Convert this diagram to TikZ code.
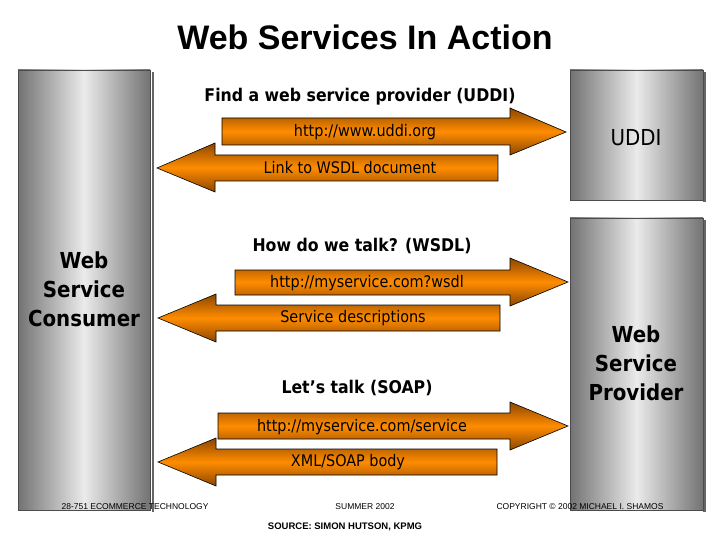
\documentclass[tikz,border=0pt]{standalone}
\usepackage{fontspec}
\setmainfont{Liberation Sans}
\newfontfamily\tah{DejaVu Sans Condensed}
\begin{document}
\begin{tikzpicture}[x=1pt,y=-1pt,
  pillar/.style={left color=black!55,right color=black!55,middle color=black!8,draw=black!70},
  arr/.style={top color=orange!55!black,bottom color=orange!55!black,middle color=orange!90!yellow,draw=black,line width=0.6pt},
  lbl/.style={font=\tah\fontsize{16}{18}\selectfont},
  head/.style={font=\tah\bfseries\fontsize{17.5}{20}\selectfont},
  big/.style={font=\tah\bfseries\fontsize{22}{29}\selectfont,align=center},
  foot/.style={font=\fontsize{8.5}{10}\selectfont}]
\useasboundingbox (0,0) rectangle (720,540);
\fill[white] (0,0) rectangle (720,540);
\node[font=\bfseries\fontsize{34}{40}\selectfont] (title) at (365,37) {Web Services In Action};
% pillars
\fill[black!60] (152,72) rectangle (154,512);
\path[pillar] (18,70) rectangle (150,510);
\fill[black!60] (703,72) rectangle (706,202);
\path[pillar] (570,70) rectangle (703,200);
\fill[black!60] (703,220) rectangle (706,512);
\path[pillar] (570,218) rectangle (703,510);
\node[big] (cons) at (84,289) {Web\\Service\\Consumer};
\node[font=\tah\fontsize{22}{25}\selectfont] (uddi) at (636,138) {UDDI};
\node[big] (prov) at (636,363) {Web\\Service\\Provider};
% arrows
\path[arr] (222,118) -- (510,118) -- (510,108) -- (566,132) -- (510,155) -- (510,145) -- (222,145) -- cycle;
\path[arr] (157,168) -- (215,143) -- (215,155) -- (498,155) -- (498,181) -- (215,181) -- (215,192) -- cycle;
\path[arr] (235,270) -- (510,270) -- (510,258) -- (568,282) -- (510,306) -- (510,295) -- (235,295) -- cycle;
\path[arr] (158,318) -- (216,294) -- (216,305) -- (500,305) -- (500,331) -- (216,331) -- (216,342) -- cycle;
\path[arr] (218,413) -- (510,413) -- (510,402) -- (568,426) -- (510,450) -- (510,439) -- (218,439) -- cycle;
\path[arr] (158,462) -- (216,438) -- (216,449) -- (497,449) -- (497,475) -- (216,475) -- (216,486) -- cycle;
\node[head] (h1) at (360,97) {Find a web service provider (UDDI)};
\node[lbl] (a1) at (365,132) {http://www.uddi.org};
\node[lbl] (a2) at (350,168) {Link to WSDL document};
\node[head] (h2) at (362,246) {How do we talk? (WSDL)};
\node[lbl] (a3) at (367,283) {http://myservice.com?wsdl};
\node[lbl] (a4) at (353,318) {Service descriptions};
\node[head] (h3) at (357,388) {Let’s talk (SOAP)};
\node[lbl] (a5) at (362,427) {http://myservice.com/service};
\node[lbl] (a6) at (348,462) {XML/SOAP body};
% footer
\node[foot] (f1) at (135,507) {28-751 ECOMMERCE TECHNOLOGY};
\node[foot] (f2) at (365,507) {SUMMER 2002};
\node[foot] (f3) at (580,507) {COPYRIGHT © 2002 MICHAEL I. SHAMOS};
\node[foot,font=\bfseries\fontsize{9.5}{11}\selectfont] (f4) at (345,527) {SOURCE: SIMON HUTSON, KPMG};
\end{tikzpicture}
\end{document}
